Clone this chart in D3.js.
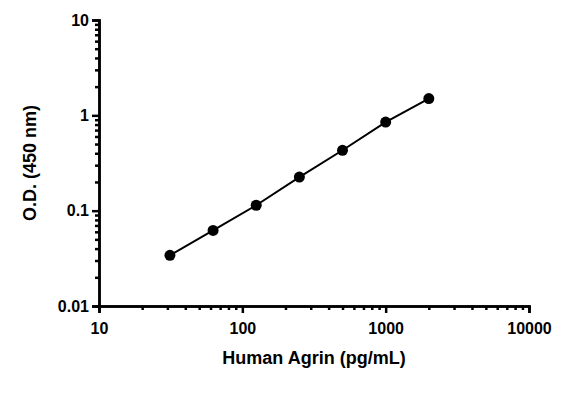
<!DOCTYPE html><html><head><script src="https://cdn.jsdelivr.net/npm/d3@7"></script>
<style>body{margin:0;background:#fff}text{font-family:Arial,"Liberation Sans",sans-serif;font-weight:bold}</style></head><body>
<svg id="c" width="571" height="406"></svg>
<script>
const concentrations=[31.25,62.5,125,250,500,1000,2000];
const odValues=[0.034,0.062,0.114,0.225,0.43,0.85,1.5];
const xTicks=[10,100,1000,10000];
const yTicks=[0.01,0.1,1,10];
const svg=d3.select("#c");
const x=d3.scaleLog().domain([10,10000]).range([99,529]);
const y=d3.scaleLog().domain([0.01,10]).range([306,20]);
const minor=(lo,hi)=>{const a=[];for(let d=lo;d<hi;d*=10)for(let k=2;k<=9;k++)a.push(d*k);return a;};
const gx=svg.append("g").attr("transform","translate(0,306)");
gx.call(d3.axisBottom(x).tickValues(minor(10,10000)).tickFormat("").tickSize(4));
gx.append("g").call(d3.axisBottom(x).tickValues(xTicks).tickFormat(d3.format("d")).tickSize(7));
const gy=svg.append("g").attr("transform","translate(99,0)");
gy.call(d3.axisLeft(y).tickValues(minor(0.01,10)).tickFormat("").tickSize(4));
gy.append("g").call(d3.axisLeft(y).tickValues(yTicks).tickFormat(d=>d>=1?d3.format("d")(d):String(d)).tickSize(7));
svg.selectAll(".domain,.tick line").attr("stroke","#000").attr("stroke-width",2.5);
svg.selectAll(".tick text").attr("font-size",16).attr("fill","#000");
gx.selectAll(".tick text").attr("dy","1.1em");
svg.append("path").datum(concentrations.map((c,i)=>[c,odValues[i]]))
 .attr("d",d3.line().x(d=>x(d[0])).y(d=>y(d[1]))).attr("fill","none").attr("stroke","#000").attr("stroke-width",2);
svg.selectAll("circle").data(concentrations).enter().append("circle")
 .attr("cx",d=>x(d)).attr("cy",(d,i)=>y(odValues[i])).attr("r",5.5).attr("fill","#000");
svg.append("text").attr("x",314).attr("y",364).attr("text-anchor","middle").attr("font-size",18).text("Human Agrin (pg/mL)");
svg.append("text").attr("transform","translate(36,163) rotate(-90)").attr("text-anchor","middle").attr("font-size",18).text("O.D. (450 nm)");
</script></body></html>
